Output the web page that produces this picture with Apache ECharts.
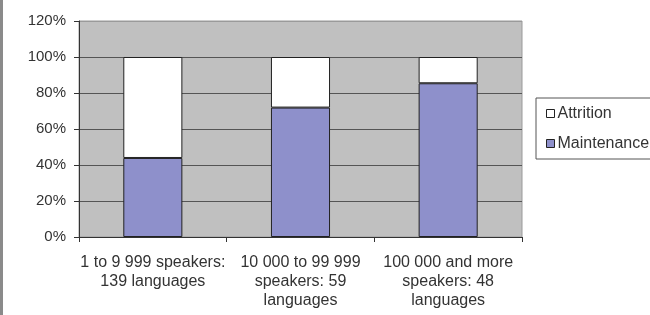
<!DOCTYPE html>
<html>
<head>
<meta charset="utf-8">
<script src="https://cdn.jsdelivr.net/npm/echarts@6/dist/echarts.min.js"></script>
<style>
html,body{margin:0;padding:0;background:#fff;overflow:hidden;}
#edge{position:absolute;left:0;top:0;width:3px;height:315px;background:#8a8a8a;}
#chart{position:absolute;left:0;top:0;width:650px;height:315px;}
</style>
</head>
<body>
<div id="chart"></div>
<div id="edge"></div>
<script>
const categories = [
  "1 to 9 999 speakers:\n139 languages",
  "10 000 to 99 999\nspeakers: 59\nlanguages",
  "100 000 and more\nspeakers: 48\nlanguages"
];
const maintenance = [0.439, 0.719, 0.854];
const attrition = [0.561, 0.281, 0.146];
const seriesNames = ["Attrition", "Maintenance"];
const yTicks = [0, 0.2, 0.4, 0.6, 0.8, 1.0, 1.2];

const chart = echarts.init(document.getElementById('chart'), null, {renderer: 'canvas'});
const font = 'Liberation Sans, Arial, sans-serif';
chart.setOption({
  animation: false,
  backgroundColor: '#ffffff',
  grid: {
    left: 79, right: 128, top: 21, bottom: 78,
    show: true, backgroundColor: '#c0c0c0', borderColor: '#9a9a9a', borderWidth: 1
  },
  legend: {
    data: seriesNames,
    orient: 'vertical',
    left: 536, top: 98,
    padding: [7, 16, 7, 10],
    itemWidth: 8, itemHeight: 8, itemGap: 13,
    borderColor: '#555', borderWidth: 1,
    icon: 'rect',
    itemStyle: {borderColor: '#222', borderWidth: 1},
    textStyle: {fontFamily: font, fontSize: 16, color: '#333', lineHeight: 17, padding: [0, 0, 0, -2]}
  },
  xAxis: {
    type: 'category',
    data: categories,
    axisLine: {lineStyle: {color: '#333', width: 1}},
    axisTick: {show: true, alignWithLabel: false, length: 5, lineStyle: {color: '#333'}},
    axisLabel: {fontFamily: font, fontSize: 16, color: '#333', lineHeight: 19, margin: 16, interval: 0}
  },
  yAxis: {
    type: 'value',
    min: yTicks[0], max: yTicks[yTicks.length - 1], interval: 0.2,
    axisLine: {show: true, lineStyle: {color: '#333', width: 1}},
    axisTick: {show: true, length: 5, lineStyle: {color: '#333'}},
    axisLabel: {fontFamily: font, fontSize: 15, color: '#333', margin: 13,
      formatter: v => Math.round(v * 100) + '%'},
    splitLine: {show: true, lineStyle: {color: ['#555', '#555', '#555', '#555', '#555', '#555', '#9a9a9a'], width: 1}}
  },
  series: [
    {
      name: 'Maintenance', type: 'bar', stack: 'total', barWidth: '40%',
      data: maintenance,
      itemStyle: {color: '#8e90cb', borderColor: '#222', borderWidth: 1}
    },
    {
      name: 'Attrition', type: 'bar', stack: 'total', barWidth: '40%',
      data: attrition,
      itemStyle: {color: '#ffffff', borderColor: '#222', borderWidth: 1}
    }
  ]
});
</script>
</body>
</html>
